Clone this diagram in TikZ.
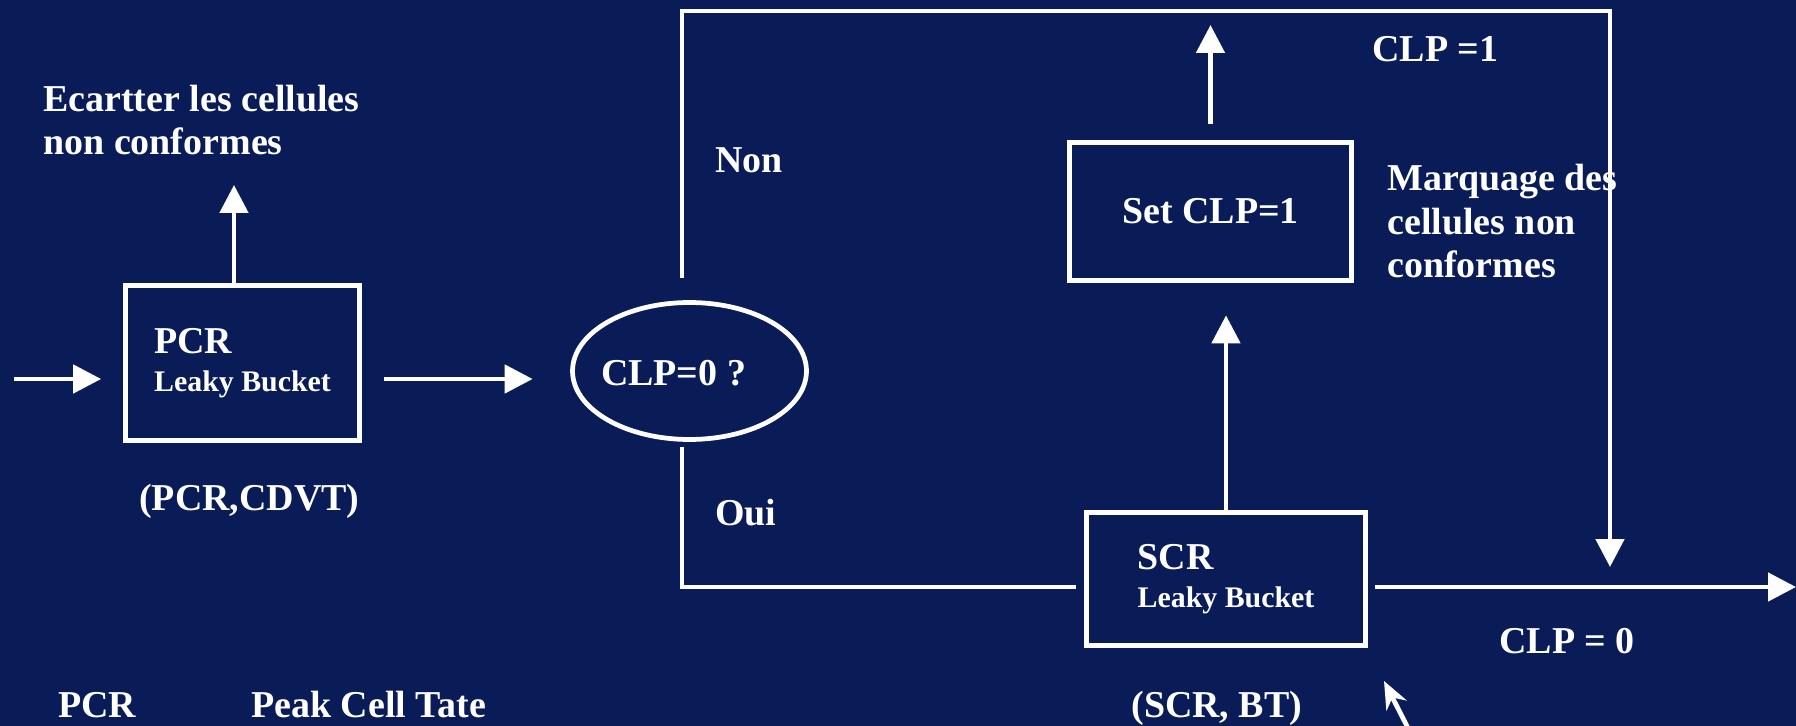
\documentclass[tikz,border=0pt]{standalone}
\usepackage{fontspec}
\setmainfont{Liberation Serif}
\usepackage{tikz}
\usetikzlibrary{arrows.meta}
\usetikzlibrary{shapes.geometric}
\usetikzlibrary{positioning}
\definecolor{fond}{RGB}{10,28,88}
\newcommand{\txtgros}{\fontsize{21.6}{25}\selectfont\bfseries}
\newcommand{\txtpetit}{\fontsize{17}{20}\selectfont\bfseries}
\tikzstyle{trait}=[draw=white, line width=2.7pt]
\tikzstyle{fleche}=[trait, -{Triangle[width=0.56cm,length=0.56cm]}]
\tikzstyle{boite}=[trait, rectangle, inner sep=0pt, text=white, font=\txtgros, align=left]
\tikzstyle{etiq}=[text=white, font=\txtgros, inner sep=0pt, align=left, anchor=base west]

\begin{document}
\begin{tikzpicture}[x=0.02cm, y=-0.02cm]
  \fill[fond] (0,0) rectangle (1796,726);
  \useasboundingbox (0,0) rectangle (1796,726);
  % blocs
  \node[boite, minimum width=4.68cm, minimum height=3.1cm] (pcr) at (242.5,363)
    {PCR\\[-3pt]{\txtpetit Leaky Bucket}};
  \node[trait, ellipse, minimum width=4.68cm, minimum height=2.74cm, inner sep=0pt,
    label={[text=white, font=\txtgros, xshift=-0.32cm, yshift=-0.04cm]center:CLP=0 ?}] (clp) at (689.5,371) {};
  \node[boite, minimum width=5.64cm, minimum height=2.76cm] (setclp) at (1210.5,211.5) {Set CLP=1};
  \node[boite, minimum width=5.58cm, minimum height=2.66cm] (scr) at (1226,579)
    {SCR\\[-3pt]{\txtpetit Leaky Bucket}};
  % points
  \coordinate (in) at (14,379);
  \coordinate (discard) at (234,185);
  \coordinate (nw) at (682,11);
  \coordinate (ne) at (1610,11);
  \coordinate (sw) at (682,587);
  \coordinate (out) at (1796,587);
  \coordinate (souris) at (1410,732);
  \coordinate (pointe) at (1384,681);
  % liens
  \draw[fleche, shorten >=0.44cm] (in) -- (in -| pcr.west);
  \draw[fleche, shorten <=0.45cm, shorten >=0.75cm] (pcr.east |- in) -- (clp.west |- in);
  \draw[fleche] (pcr.north -| discard) -- (discard);
  \draw[fleche, line join=miter, shorten <=0.45cm, shorten >=0.4cm] (clp.north -| nw) -- (nw) -- (ne) -- (ne |- out);
  \draw[trait, line join=miter, shorten <=0.1cm, shorten >=0.17cm] (clp.south -| sw) -- (sw) -- (scr.west |- sw);
  \draw[fleche, shorten <=0.15cm] (scr.east |- out) -- (out);
  \draw[fleche, shorten >=0.65cm] (scr.north) -- (setclp.south -| scr.north);
  \draw[fleche, shorten <=0.33cm, shorten >=0.28cm] (setclp.north) -- (setclp.north |- nw);
  \draw[draw=white, line width=2.7pt, -{Stealth[width=0.45cm,length=0.55cm]}] (souris) -- (pointe);
  % textes (base = derniere ligne)
  \node[etiq] (ecart) at (43,155) {Ecartter les cellules\\non conformes};
  \node[etiq] (pcrparam) at (139,510) {(PCR,CDVT)};
  \node[etiq] (non) at (715,173) {Non};
  \node[etiq] (oui) at (715,525) {Oui};
  \node[etiq] (clpun) at (1372,62) {CLP =1};
  \node[etiq] (marq) at (1387,278) {Marquage des\\cellules non\\conformes};
  \node[etiq] (clpzero) at (1499,653) {CLP = 0};
  \node[etiq] (scrparam) at (1131,717) {(SCR, BT)};
  \node[etiq] (leg) at (58,717) {PCR};
  \node[etiq] (legtxt) at (251,717) {Peak Cell Tate};
\end{tikzpicture}
\end{document}
